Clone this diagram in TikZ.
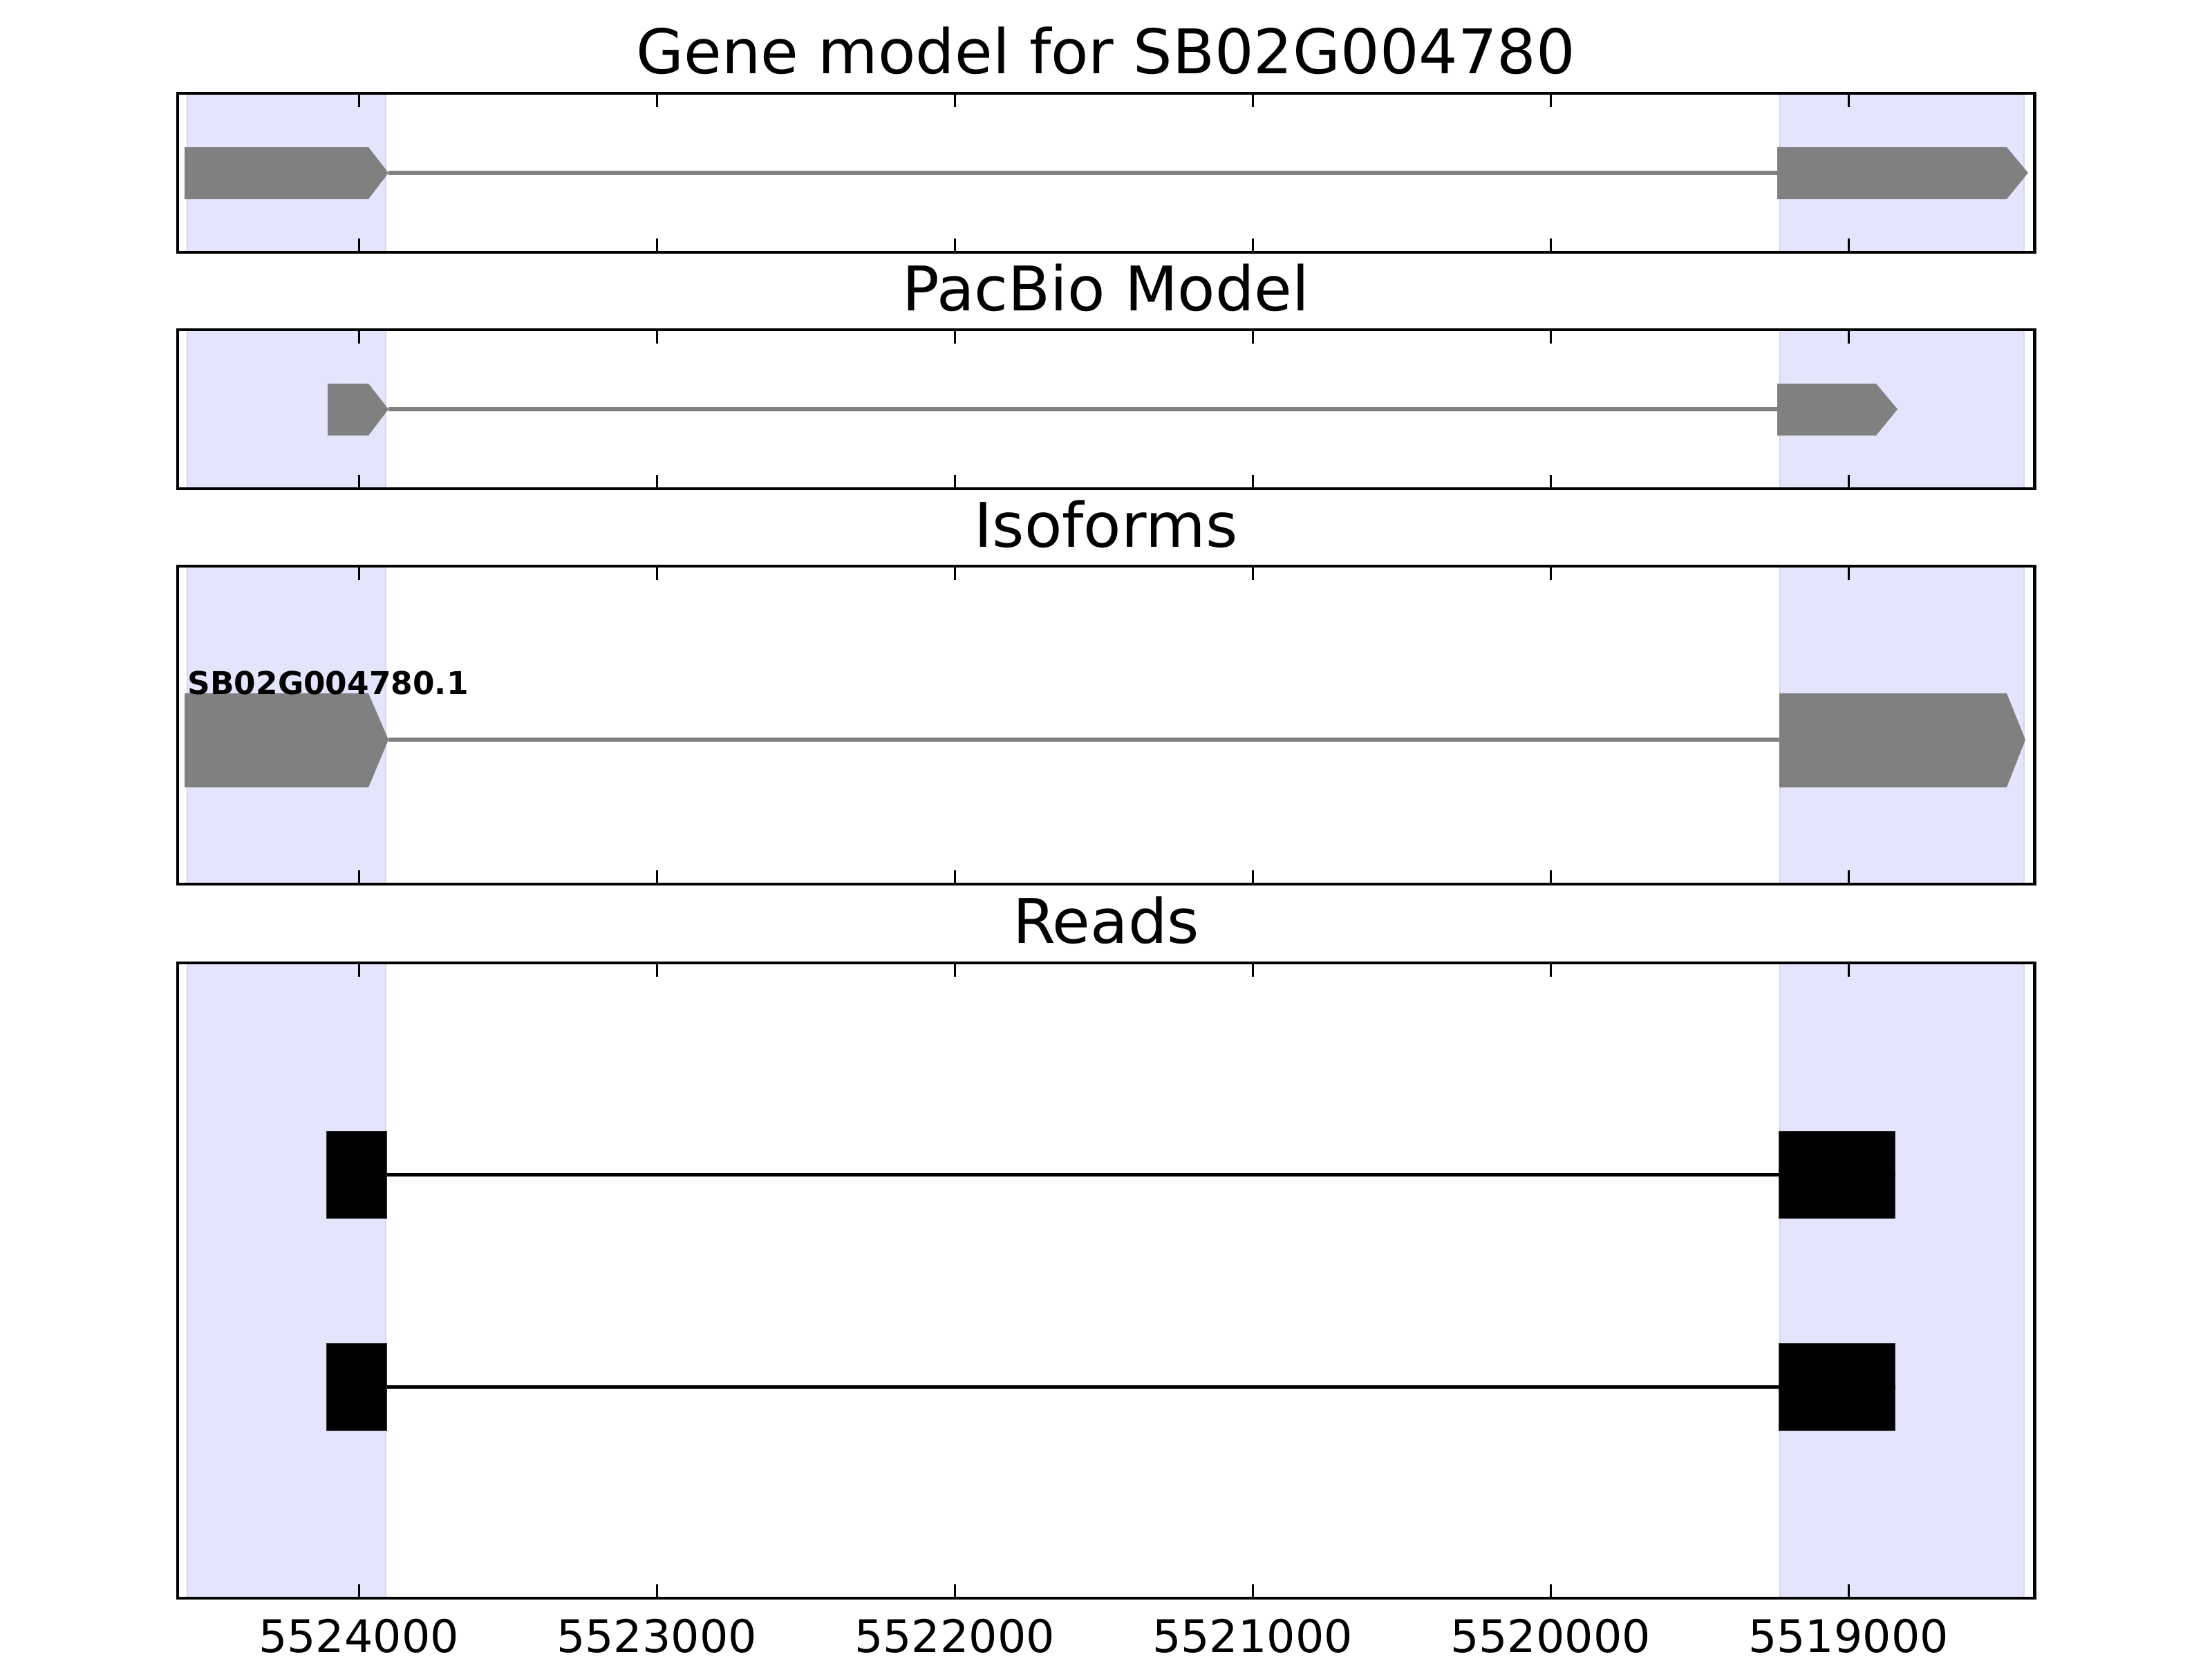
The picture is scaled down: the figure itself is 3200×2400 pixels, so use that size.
\documentclass[tikz,border=0pt]{standalone}
\usepackage{fontspec}
\setmainfont{DejaVu Sans}
\definecolor{shade}{RGB}{228,228,253}
\definecolor{shadeedge}{RGB}{214,214,236}
\definecolor{exongray}{RGB}{128,128,128}
\tikzset{
  panel/.style={draw=black, line width=1.4pt},
  shadebox/.style={fill=shade, draw=shadeedge, line width=0.8pt},
  exon/.style={fill=exongray, draw=none},
  intron/.style={draw=exongray, line width=1.6pt},
  readbox/.style={fill=black, draw=black!80, line width=0.3pt},
  readline/.style={draw=black, line width=1.4pt},
  tickmark/.style={draw=black, line width=0.85pt},
  paneltitle/.style={anchor=base, inner sep=0pt, font=\fontsize{25.3}{29}\selectfont},
  ticklabel/.style={anchor=base, inner sep=0pt, font=\fontsize{18.5}{22}\selectfont},
  isolabel/.style={anchor=base west, inner sep=0pt, font=\bfseries\fontsize{12.9}{15}\selectfont}
}
\begin{document}
\begin{tikzpicture}[x=0.01cm, y=-0.01cm]
        \useasboundingbox (0,0) rectangle (3200,2400);

        % Shaded exon regions
        \draw[shadebox] (271,135)  rectangle (558,365);
        \draw[shadebox] (2575,135) rectangle (2928,365);
        \draw[shadebox] (271,477)  rectangle (558,707);
        \draw[shadebox] (2575,477) rectangle (2928,707);
        \draw[shadebox] (271,819)  rectangle (558,1279);
        \draw[shadebox] (2575,819) rectangle (2928,1279);
        \draw[shadebox] (271,1393) rectangle (558,2312);
        \draw[shadebox] (2575,1393) rectangle (2928,2312);

        % Gene model
        \coordinate (g1a) at (562,250);
        \coordinate (g1b) at (2571,250);
        \draw[intron] (g1a) -- (g1b);
        \fill[exon] (267,213) -- (533,213) -- (g1a) -- (533,288) -- (267,288) -- cycle;
        \fill[exon] (2571,213) -- (2903,213) -- (2934,250) -- (2903,288) -- (2571,288) -- cycle;

        % PacBio model
        \coordinate (g2a) at (562,592);
        \coordinate (g2b) at (2571,592);
        \draw[intron] (g2a) -- (g2b);
        \fill[exon] (474,555) -- (533,555) -- (g2a) -- (533,630) -- (474,630) -- cycle;
        \fill[exon] (2571,555) -- (2714,555) -- (2745,592) -- (2714,630) -- (2571,630) -- cycle;

        % Isoforms
        \coordinate (g3a) at (562,1070);
        \coordinate (g3b) at (2574,1070);
        \draw[intron] (g3a) -- (g3b);
        \fill[exon] (267,1003) -- (533,1003) -- (g3a) -- (533,1139) -- (267,1139) -- cycle;
        \fill[exon] (2574,1003) -- (2903,1003) -- (2930,1070) -- (2903,1139) -- (2574,1139) -- cycle;
        \node[isolabel] at (271,1004) (iso1) {SB02G004780.1};

        % Reads
        \node[readbox, anchor=north west, minimum width=0.87cm, minimum height=1.26cm, inner sep=0pt] at (472,1636) (r1a) {};
        \node[readbox, anchor=north west, minimum width=1.68cm, minimum height=1.26cm, inner sep=0pt] at (2573,1636) (r1b) {};
        \node[readbox, anchor=north west, minimum width=0.87cm, minimum height=1.26cm, inner sep=0pt] at (472,1943) (r2a) {};
        \node[readbox, anchor=north west, minimum width=1.68cm, minimum height=1.26cm, inner sep=0pt] at (2573,1943) (r2b) {};
        \draw[readline] (r1a.east) -- (r1b.east);
        \draw[readline] (r2a.east) -- (r2b.east);

        % Panels
        \draw[panel] (257,135)  rectangle (2943,365);
        \draw[panel] (257,477)  rectangle (2943,707);
        \draw[panel] (257,819)  rectangle (2943,1279);
        \draw[panel] (257,1393) rectangle (2943,2312);

        % Ticks
        \foreach \tx/\tl in {519/5524000, 950/5523000, 1381/5522000, 1812/5521000, 2243/5520000, 2674/5519000} {
            \foreach \ya/\yb in {135/365, 477/707, 819/1279, 1393/2312} {
                \draw[tickmark] (\tx,\ya) -- ++(0,20);
                \draw[tickmark] (\tx,\yb) -- ++(0,-20);
            }
            \node[ticklabel] at (\tx,2390) (tick\tl) {\tl};
        }

        % Titles
        \node[paneltitle] at (1600,107)  (t1) {Gene model for SB02G004780};
        \node[paneltitle] at (1600,449)  (t2) {PacBio Model};
        \node[paneltitle] at (1600,791)  (t3) {Isoforms};
        \node[paneltitle] at (1600,1364) (t4) {Reads};
    \end{tikzpicture}
\end{document}
